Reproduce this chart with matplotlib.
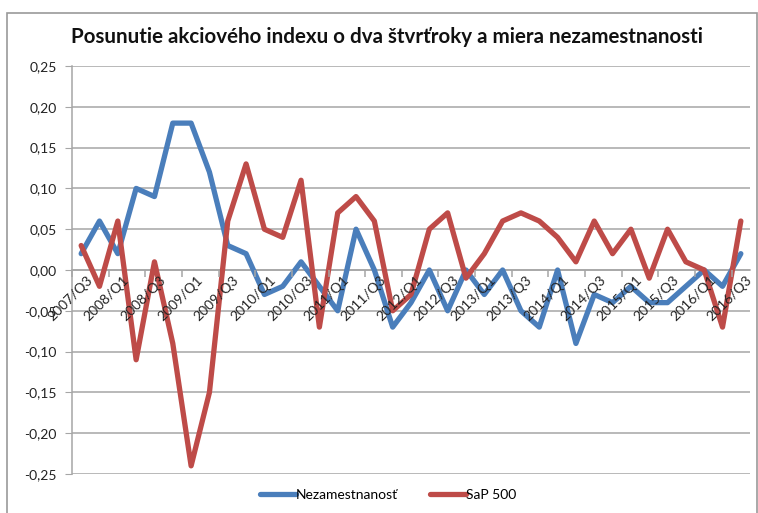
import matplotlib
matplotlib.use("Agg")
import matplotlib.pyplot as plt
from matplotlib.patches import Rectangle
from matplotlib.ticker import FixedLocator, FuncFormatter

quarters = []
for y in range(2007, 2017):
    for q in range(1, 5):
        quarters.append(f"{y}/Q{q}")
quarters = quarters[2:2 + 37]  # 2007/Q3 .. 2016/Q3

nezamestnanost = [0.02, 0.06, 0.02, 0.10, 0.09, 0.18, 0.18, 0.12, 0.03, 0.02,
                  -0.03, -0.02, 0.01, -0.02, -0.05, 0.05, 0.00, -0.07, -0.04, 0.00,
                  -0.05, 0.00, -0.03, 0.00, -0.05, -0.07, 0.00, -0.09, -0.03, -0.04,
                  -0.02, -0.04, -0.04, -0.02, 0.00, -0.02, 0.02]
sap500 = [0.03, -0.02, 0.06, -0.11, 0.01, -0.09, -0.24, -0.15, 0.06, 0.13,
          0.05, 0.04, 0.11, -0.07, 0.07, 0.09, 0.06, -0.05, -0.03, 0.05,
          0.07, -0.01, 0.02, 0.06, 0.07, 0.06, 0.04, 0.01, 0.06, 0.02,
          0.05, -0.01, 0.05, 0.01, 0.00, -0.07, 0.06]
yticks = [-0.25, -0.20, -0.15, -0.10, -0.05, 0.00, 0.05, 0.10, 0.15, 0.20, 0.25]

title = "Posunutie akciového indexu o dva štvrťroky a miera nezamestnanosti"

plt.rcParams['font.family'] = ['Lato', 'DejaVu Sans']

fig = plt.figure(figsize=(7.58, 5.13), dpi=100)
# outer chart border
fig.patches.append(Rectangle((7 / 758, -0.01), 750 / 758, 1 - 13 / 513 + 0.01,
                             transform=fig.transFigure, fill=False,
                             edgecolor='#9a9a9a', linewidth=1.2))

ax = fig.add_axes([72 / 758, 1 - 474 / 513, (750 - 72) / 758, (474 - 66) / 513])
x = list(range(len(quarters)))
ax.plot(x, nezamestnanost, color='#4a7ebb', linewidth=3.8, solid_joinstyle='round',
        solid_capstyle='round', label='Nezamestnanosť', zorder=3)
ax.plot(x, sap500, color='#be4b48', linewidth=3.8, solid_joinstyle='round',
        solid_capstyle='round', label='SaP 500', zorder=3)

ax.set_xlim(-0.5, len(quarters) - 0.5)
ax.set_ylim(-0.25, 0.25)
ax.set_yticks(yticks)
ax.yaxis.set_major_formatter(FuncFormatter(lambda v, p: f"{v:.2f}".replace('.', ',').replace('-0,00', '0,00')))
ax.grid(axis='y', color='#a6a6a6', linewidth=1.1)
ax.set_axisbelow(True)

for s in ['top', 'right']:
    ax.spines[s].set_visible(False)
ax.spines['left'].set_color('#a6a6a6')
ax.spines['left'].set_linewidth(1.1)
ax.spines['bottom'].set_position(('data', 0))
ax.spines['bottom'].set_color('#a6a6a6')
ax.spines['bottom'].set_linewidth(1.1)

ax.tick_params(axis='y', length=5, color='#a6a6a6', labelsize=10, labelcolor='#222222', pad=6)

label_pos = x[::2]
ax.xaxis.set_major_locator(FixedLocator(label_pos))
ax.set_xticklabels([quarters[i] for i in label_pos], rotation=45, ha='right',
                   va='top', rotation_mode='anchor', fontsize=10, color='#222222')
ax.xaxis.set_minor_locator(FixedLocator([i - 0.5 for i in range(0, len(quarters) + 1, 2)]))
ax.tick_params(axis='x', which='major', length=0, pad=3)
ax.tick_params(axis='x', which='minor', length=5, color='#a6a6a6', width=1.1)
for lbl in ax.get_xticklabels():
    lbl.set_transform(lbl.get_transform() + matplotlib.transforms.ScaledTranslation(5 / 100, 0, fig.dpi_scale_trans))
ax.xaxis.set_zorder(4)

fig.text(0.5 * (68 + 706) / 758, 1 - 37 / 513, title, ha='center', va='center',
         fontsize=14.8, fontweight='bold', color='#111111')

fig.legend(loc='center', bbox_to_anchor=(388 / 758, 1 - 495 / 513), ncol=2,
           frameon=False, fontsize=10, handlelength=2.6, handletextpad=0.0,
           columnspacing=2.3)

fig.savefig('out.png', dpi=100)
